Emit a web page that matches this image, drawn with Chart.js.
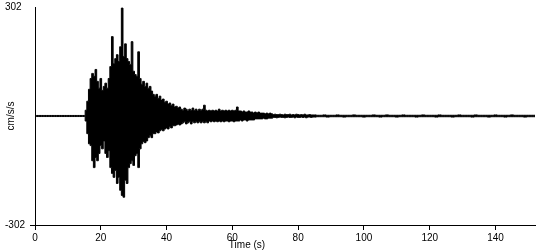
<!DOCTYPE html>
<html>
<head>
  <title>Accelerogram</title>
  <script src="https://cdn.jsdelivr.net/npm/chart.js"></script>
  <style>
    html, body { margin: 0; padding: 0; background: #fff; }
    #wrap { width: 550px; height: 250px; position: relative; }
  </style>
</head>
<body>
  <div id="wrap"><canvas id="accelChart"></canvas></div>
  <script>
    // acceleration record, cm/s/s, peaks
    var yLimit = 302;
    var xMax = 152;
    var xTicks = [0, 20, 40, 60, 80, 100, 120, 140];
    var yTicks = [-302, 302];

    // quiet part before the event, 1 s samples from 0 s
    var preStart = 0;
    var preDt = 1;
    var preUpper = [1.5, 1.5, 1.5, 1.5, 1.5, 1.5, 1.5, 1.5, 1.5, 1.5, 1.5, 1.5, 1.5, 1.5, 1.5, 1.5];
    var preLower = [-1.5, -1.5, -1.5, -1.5, -1.5, -1.5, -1.5, -1.5, -1.5, -1.5, -1.5, -1.5, -1.5, -1.5, -1.5, -1.5];

    // strong motion, 0.5 s samples from 15.5 s (max / min per sample)
    var mainStart = 15.5;
    var mainDt = 0.5;
    var mainUpper = [
      16, 41, 74, 104, 118, 110, 129, 96, 77, 104,
      71, 82, 91, 77, 104, 137, 220, 145, 159, 170,
      151, 192, 299, 165, 200, 159, 151, 143, 206, 124,
      115, 110, 178, 104, 88, 96, 82, 91, 77, 82,
      69, 60, 55, 60, 49, 55, 44, 47, 38, 41,
      33, 36, 30, 33, 25, 27, 22, 25, 19, 16,
      22, 19, 14, 19, 16, 22, 16, 19, 14, 19,
      16, 19, 30, 16, 14, 16, 14, 16, 14, 16,
      14, 19, 14, 16, 14, 16, 14, 16, 14, 16,
      14, 16, 25, 14, 14, 11, 14, 11, 11, 14,
      11, 11, 8, 11, 8, 11, 8, 8, 8, 6,
      8, 6, 8, 6, 4, 5, 4, 4, 5, 4,
      3, 5, 4, 4, 5, 3, 4, 3, 5, 4,
      3, 4, 3, 5, 3, 3, 4, 3, 3
    ];
    var mainLower = [
      -14, -49, -77, -82, -124, -143, -115, -124, -104, -82,
      -91, -69, -104, -115, -96, -143, -159, -170, -151, -187,
      -170, -206, -220, -225, -178, -187, -143, -132, -124, -137,
      -110, -104, -143, -91, -77, -71, -74, -69, -60, -55,
      -60, -49, -49, -44, -47, -41, -38, -41, -36, -33,
      -36, -30, -33, -27, -27, -25, -22, -25, -22, -19,
      -16, -22, -19, -16, -22, -16, -19, -16, -19, -16,
      -19, -16, -19, -16, -19, -14, -16, -14, -16, -14,
      -16, -14, -16, -14, -16, -14, -14, -16, -14, -14,
      -16, -14, -14, -14, -11, -14, -11, -11, -14, -11,
      -11, -11, -11, -8, -8, -8, -8, -8, -6, -8,
      -8, -6, -6, -6, -4, -4, -5, -4, -3, -4,
      -4, -5, -4, -3, -4, -4, -3, -5, -3, -4,
      -4, -3, -4, -3, -5, -3, -3, -4, -3
    ];

    // coda, 1 s samples from 85 s
    var codaStart = 85;
    var codaDt = 1;
    var codaUpper = [
      3, 2, 2, 3, 2, 2, 2, 3, 2, 2,
      2, 2, 3, 2, 2, 2, 2, 2, 3, 2,
      2, 2, 3, 2, 2, 2, 2, 3, 2, 2,
      2, 2, 2, 3, 2, 2, 2, 2, 3, 2,
      2, 2, 2, 2, 3, 2, 2, 2, 2, 3,
      2, 2, 2, 2, 2, 3, 2, 2, 2, 2,
      3, 2, 2, 2, 2, 2, 2, 2
    ];
    var codaLower = [
      -3, -2, -2, -2, -3, -2, -2, -2, -2, -3,
      -2, -2, -2, -2, -2, -3, -2, -2, -2, -2,
      -3, -2, -2, -2, -2, -3, -2, -2, -2, -2,
      -2, -3, -2, -2, -2, -2, -2, -3, -2, -2,
      -2, -2, -3, -2, -2, -2, -2, -2, -3, -2,
      -2, -2, -2, -3, -2, -2, -2, -2, -3, -2,
      -2, -2, -2, -2, -3, -2, -2, -2
    ];

    function toPoints(values, start, dt) {
      return values.map((v, i) => ({ x: start + i * dt, y: v }));
    }

    function buildTrace(pre, main, coda) {
      return []
        .concat(toPoints(pre, preStart, preDt))
        .concat(toPoints(main, mainStart, mainDt))
        .concat(toPoints(coda, codaStart, codaDt));
    }

    var font = { family: "Arial, 'Liberation Sans', sans-serif", size: 10 };

    // x title sits left of centre in the original, so draw it by hand
    var xTitle = {
      id: 'xTitle',
      afterDraw(chart) {
        const c = chart.ctx;
        c.save();
        c.font = '10px ' + font.family;
        c.fillStyle = '#000';
        c.textAlign = 'center';
        c.textBaseline = 'middle';
        c.fillText('Time (s)', 247, 245);
        c.restore();
      }
    };

    function traceSet(label, data) {
      return {
        label: label,
        data: data,
        borderColor: '#000',
        backgroundColor: '#000',
        borderWidth: 1,
        pointRadius: 0,
        stepped: 'middle',
        fill: 'origin'
      };
    }

    const ctx = document.getElementById('accelChart').getContext('2d');
    new Chart(ctx, {
      type: 'line',
      data: {
        datasets: [
          traceSet('max', buildTrace(preUpper, mainUpper, codaUpper)),
          traceSet('min', buildTrace(preLower, mainLower, codaLower))
        ]
      },
      options: {
        responsive: true,
        maintainAspectRatio: false,
        animation: false,
        layout: { padding: { left: 5, right: 15, top: 5, bottom: 0 } },
        plugins: {
          legend: { display: false },
          tooltip: { enabled: false }
        },
        scales: {
          x: {
            type: 'linear',
            min: 0,
            max: xMax,
            afterBuildTicks: s => { s.ticks = xTicks.map(v => ({ value: v })); },
            afterFit: s => { s.height = 25; },
            border: { display: true, color: '#000', width: 1 },
            grid: { drawOnChartArea: false, drawTicks: true, tickLength: 5, color: '#000' },
            ticks: { color: '#000', font: font, padding: 2, maxRotation: 0 }
          },
          y: {
            min: -yLimit,
            max: yLimit,
            afterBuildTicks: s => { s.ticks = yTicks.map(v => ({ value: v })); },
            afterFit: s => { s.width = 30; },
            border: { display: true, color: '#000', width: 1 },
            grid: {
              drawOnChartArea: false,
              drawTicks: true,
              tickLength: 5,
              color: c => (c.tick && c.tick.value > 0) ? 'rgba(0,0,0,0)' : '#000'
            },
            ticks: {
              color: '#000',
              font: { family: font.family, size: 10, lineHeight: 1 },
              crossAlign: 'far',
              padding: 2
            },
            title: {
              display: true,
              text: 'cm/s/s',
              color: '#000',
              font: font,
              padding: 0
            }
          }
        }
      },
      plugins: [xTitle]
    });
  </script>
</body>
</html>
